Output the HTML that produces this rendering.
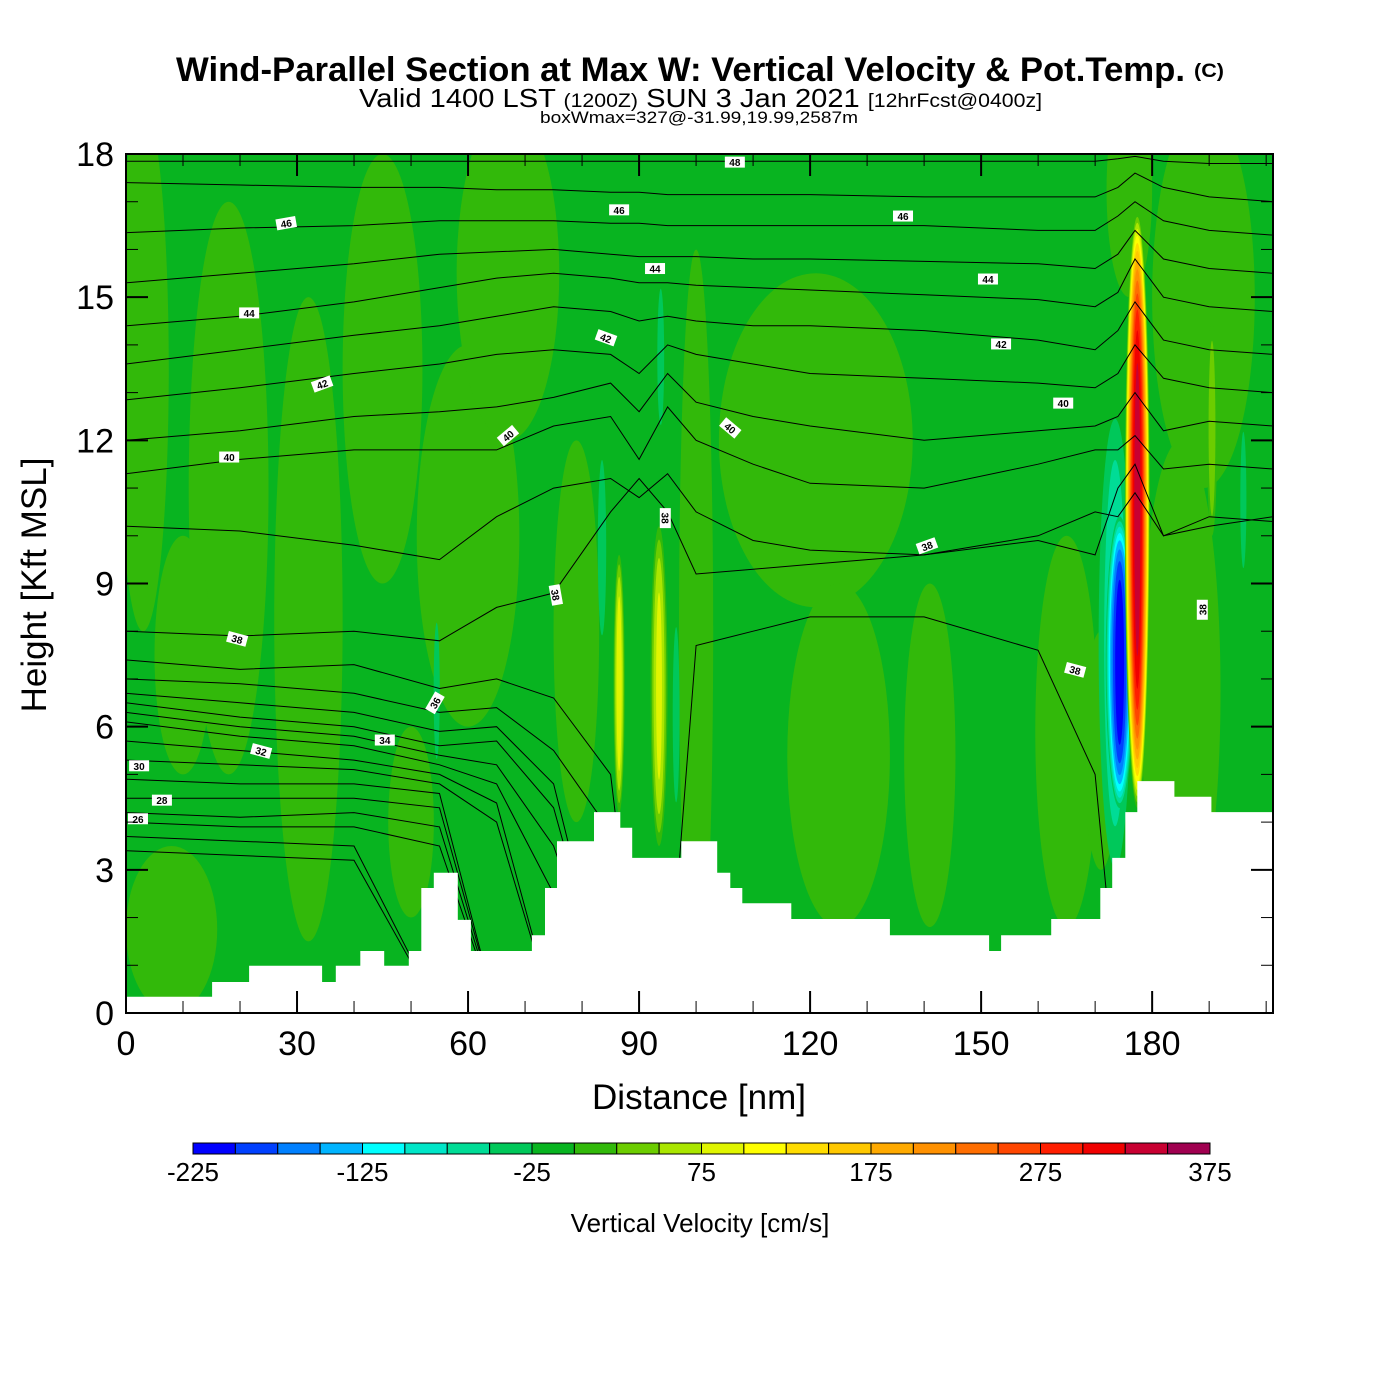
<!DOCTYPE html>
<html><head><meta charset="utf-8"><style>
html,body{margin:0;padding:0;background:#fff;}
svg{display:block;font-family:"Liberation Sans",sans-serif;}
</style></head><body>
<svg id="chart" width="1400" height="1400" viewBox="0 0 1400 1400" xmlns="http://www.w3.org/2000/svg">
<rect x="0" y="0" width="1400" height="1400" fill="#fff"/>
<text x="176" y="81" font-size="34" font-weight="bold" textLength="1009" lengthAdjust="spacingAndGlyphs">Wind-Parallel Section at Max W: Vertical Velocity &amp; Pot.Temp.</text>
<text x="1194" y="77" font-size="19" font-weight="bold" textLength="30" lengthAdjust="spacingAndGlyphs">(C)</text>
<text x="359" y="107" font-size="26" textLength="683" lengthAdjust="spacingAndGlyphs">Valid 1400 LST <tspan font-size="19">(1200Z)</tspan> SUN 3 Jan 2021 <tspan font-size="19">[12hrFcst@0400z]</tspan></text>
<text x="540" y="123" font-size="17" textLength="318" lengthAdjust="spacingAndGlyphs">boxWmax=327@-31.99,19.99,2587m</text>
<defs><clipPath id="plotclip"><rect x="126" y="154" width="1147" height="859"/></clipPath></defs>
<g id="plot" clip-path="url(#plotclip)"></g>
<g id="frame"></g>
<g id="colorbar"></g>
</svg>
<script>
// ---- data ----
const xMaxNm = 201.2;
const yMaxKft = 18;
const bgValue = -10;
const binColors = ["#0000ff","#0040ff","#0080ff","#00b4ff","#00ffff","#00e6c8","#00dc96","#00c85a","#08b420","#32b90a","#6ccd00","#aae600","#e0f500","#ffff00","#ffdc00","#ffc800","#ffaa00","#ff9100","#ff6e00","#ff4600","#ff1e00","#f00000","#c80032","#a00050"];
const cbTickValues = [-225,-125,-25,75,175,275,375];
// vertical-velocity features (centre nm, half width nm, bottom kft, top kft, peak cm/s)
const featX    = [3,   18,  32,  45,  60,  67,  79,  121, 125, 141, 165, 185, 189, 176, 8,   10,  50,  100, 171, 54.5,83.5,96.5,93.8,173.5,174.3,86.5,93.5,177.4,190.5,196];
const featHW   = [4.5, 7,   6,   7,   9,   9,   4,   17,  9,   4.5, 5.5, 7,   9,   4,   8,   5,   4,   3,   3,   0.8, 1.1, 0.9, 0.9, 3.6,  2.6,  1.0, 1.5, 2.2,  0.9, 0.8];
const featBot  = [8,   5,   1.5, 9,   6,   12,  4,   8.5, 1.8, 1.8, 1.8, 1.5, 11,  15,  0,   5,   2,   0,   3,   5,   7.5, 4,   12,  2.5,  4.2,  4.2, 3.5, 4.3,  10,  9];
const featTop  = [19,  17,  15,  18,  14,  19,  12,  15.5,9,   9,   10,  12,  19,  19.5,3.5, 10,  6,   16,  8,   8.5, 12,  8.5, 15.5,13,   10.5, 9.6, 10.2,16.8, 14.5,12.5];
const featPeak = [20,  20,  20,  20,  20,  20,  20,  20,  20,  20,  20,  20,  20,  20,  20,  20,  20,  20,  20,  -45, -45, -45, -45, -70,  -220, 95,  85,  345,  45,  -45];
// terrain steps (nm edges, kft heights)
const terrX = [0,15.1,21.6,34.4,36.8,41.1,45.3,49.6,51.8,54.0,58.2,60.5,71.2,73.5,75.6,82.1,86.7,88.8,97.4,103.7,106.0,108.1,116.7,134.0,151.4,153.5,162.3,170.9,173.0,175.3,177.4,183.9,190.4,201.2];
const terrH = [0.34,0.65,0.99,0.65,0.99,1.30,0.99,1.30,2.62,2.94,1.95,1.30,1.63,2.62,3.60,4.21,3.88,3.25,3.60,2.94,2.62,2.30,1.97,1.63,1.30,1.63,1.97,2.62,3.25,4.21,4.86,4.53,4.21];
// potential temperature contours
const ctStations = [0,20,40,55,65,75,85,90,95,100,110,120,140,160,170,174,177,182,190,201.2];
const ctLevels = [48,47,46,45,44,43,42,41,40,39,38,37,36,35,34,33,32,31,30,29,28,27,26,25,24];
const ct48 = [17.85,17.85,17.85,17.85,17.85,17.85,17.85,17.85,17.85,17.85,17.85,17.85,17.85,17.85,17.85,17.9,17.95,17.85,17.8,17.8];
const ct47 = [17.4,17.35,17.3,17.3,17.25,17.25,17.2,17.2,17.15,17.15,17.15,17.15,17.1,17.1,17.1,17.3,17.6,17.3,17.1,17.0];
const ct46 = [16.35,16.45,16.5,16.6,16.6,16.6,16.55,16.55,16.5,16.5,16.5,16.5,16.5,16.4,16.4,16.7,17.0,16.6,16.4,16.3];
const ct45 = [15.3,15.5,15.7,15.9,15.95,16.0,15.9,15.85,15.85,15.85,15.8,15.8,15.75,15.7,15.6,15.9,16.4,15.8,15.6,15.5];
const ct44 = [14.4,14.6,14.9,15.2,15.4,15.5,15.4,15.3,15.3,15.25,15.2,15.15,15.05,14.95,14.8,15.1,15.8,15.0,14.8,14.7];
const ct43 = [13.6,13.9,14.2,14.4,14.6,14.8,14.7,14.5,14.6,14.5,14.4,14.4,14.3,14.1,13.9,14.3,14.9,14.1,13.9,13.8];
const ct42 = [12.85,13.1,13.4,13.6,13.8,13.9,13.8,13.4,14.0,13.8,13.6,13.4,13.3,13.2,13.1,13.4,14.0,13.3,13.1,13.0];
const ct41 = [12.0,12.2,12.5,12.6,12.7,12.9,13.2,12.6,13.4,12.8,12.5,12.3,12.0,12.2,12.3,12.5,13.0,12.2,12.4,12.3];
const ct40 = [11.3,11.6,11.8,11.8,11.8,12.3,12.5,11.6,12.7,12.0,11.5,11.1,11.0,11.5,11.8,11.8,12.1,11.4,11.5,11.4];
const ct39 = [10.2,10.1,9.8,9.5,10.4,11.0,11.2,10.8,11.3,10.5,9.9,9.7,9.6,10.0,10.5,10.4,10.9,10.0,10.2,10.4];
const ct38 = [8.0,7.9,8.0,7.8,8.5,8.8,10.5,11.2,10.5,9.2,9.3,9.4,9.6,9.9,9.6,11.0,11.5,10.0,10.4,10.3];
const ct37 = [7.4,7.2,7.3,6.8,7.0,6.6,5.0,0,0,7.7,8.0,8.3,8.3,7.6,5.0,0,0,0,0,0];
const ct36 = [7.0,6.9,6.7,6.3,6.4,5.5,3.8,0,0,0,0,0,0,0,0,0,0,0,0,0];
const ct35 = [6.7,6.5,6.3,5.9,6.0,4.8,0,0,0,0,0,0,0,0,0,0,0,0,0,0];
const ct34 = [6.5,6.2,6.0,5.6,5.7,4.3,0,0,0,0,0,0,0,0,0,0,0,0,0,0];
const ct33 = [6.3,6.0,5.8,5.4,5.2,3.5,0,0,0,0,0,0,0,0,0,0,0,0,0,0];
const ct32 = [6.1,5.8,5.6,5.2,4.8,2.5,0,0,0,0,0,0,0,0,0,0,0,0,0,0];
const ct31 = [5.7,5.5,5.3,5.0,4.4,0,0,0,0,0,0,0,0,0,0,0,0,0,0,0];
const ct30 = [5.3,5.2,5.1,4.8,4.0,0,0,0,0,0,0,0,0,0,0,0,0,0,0,0];
const ct29 = [4.9,4.8,4.8,4.6,0,0,0,0,0,0,0,0,0,0,0,0,0,0,0,0];
const ct28 = [4.5,4.5,4.5,4.3,0,0,0,0,0,0,0,0,0,0,0,0,0,0,0,0];
const ct27 = [4.2,4.1,4.2,3.9,0,0,0,0,0,0,0,0,0,0,0,0,0,0,0,0];
const ct26 = [4.0,3.9,3.9,3.5,0,0,0,0,0,0,0,0,0,0,0,0,0,0,0,0];
const ct25 = [3.7,3.6,3.5,0,0,0,0,0,0,0,0,0,0,0,0,0,0,0,0,0];
const ct24 = [3.4,3.3,3.2,0,0,0,0,0,0,0,0,0,0,0,0,0,0,0,0,0];
const ctHeights = [ct48,ct47,ct46,ct45,ct44,ct43,ct42,ct41,ct40,ct39,ct38,ct37,ct36,ct35,ct34,ct33,ct32,ct31,ct30,ct29,ct28,ct27,ct26,ct25,ct24];
// contour labels
const lblText = ["48","46","46","46","44","44","44","42","42","42","40","40","40","40","38","38","38","38","38","38","36","34","32","30","28","26"];
const lblX = [106.8,86.5,136.3,28.1,92.8,151.2,21.6,84.2,153.5,34.4,67,106,164.4,18.1,94.6,140.5,75.4,19.5,166.5,188.8,54.2,45.4,23.7,2.3,6.3,2.1];
const lblH = [17.83,16.83,16.7,16.55,15.6,15.38,14.67,14.15,14.02,13.18,12.1,12.26,12.78,11.65,10.37,9.79,8.76,7.84,7.19,8.45,6.5,5.72,5.49,5.18,4.46,4.07];
const lblRot = [0,0,0,-10,0,0,0,20,0,-20,-40,40,0,0,90,-20,80,15,15,-90,-60,0,15,0,0,0];
const xTickVals = [0,30,60,90,120,150,180];
const yTickVals = [0,3,6,9,12,15,18];

// ---- scales ----
const PX0=126, PX1=1273, PY0=1013, PY1=154;
const sx = nm => PX0 + nm*(PX1-PX0)/xMaxNm;
const sy = k => PY0 - k*(PY0-PY1)/yMaxKft;
const colorOf = v => binColors[Math.max(0,Math.min(23,Math.floor((v+225)/25)))];
const NS="http://www.w3.org/2000/svg";
function mk(tag, attrs, parent){const e=document.createElementNS(NS,tag);for(const k in attrs)e.setAttribute(k,attrs[k]);parent.appendChild(e);return e;}

const plot=document.getElementById('plot');
const bg=mk('rect',{x:PX0,y:PY1,width:PX1-PX0,height:PY0-PY1,fill:colorOf(bgValue)},plot);



for(let i=0;i<featX.length;i++){
  const p=featPeak[i];
  const g=mk('g',{},plot);
  
  
  const cx=sx(featX[i]), cy=(sy(featBot[i])+sy(featTop[i]))/2;
  const rx=sx(featX[i]+featHW[i])-cx, ry=(sy(featBot[i])-sy(featTop[i]))/2;
  const ths=[];
  if(p>0){for(let t=0;t<p;t+=25)ths.push(t);}else{for(let t=-25;t>p;t-=25)ths.push(t);}
  ths.forEach(t=>{
    const r=Math.sqrt(1-t/p);
    const v = p>0 ? t+1 : t-1;
    const el=mk('ellipse',{cx:cx,cy:cy,rx:rx*r,ry:ry*Math.pow(r,0.5),fill:colorOf(v)},g);
    
    
  });
}

for(let li=0;li<ctLevels.length;li++){
  const hs=ctHeights[li];
  const d=hs.map((h,j)=>(j?'L':'M')+sx(ctStations[j]).toFixed(1)+','+sy(h).toFixed(1)).join(' ');
  const path=mk('path',{d:d,fill:'none',stroke:'#000','stroke-width':1},plot);
  
  
}

let td='M'+sx(0)+','+sy(0);
for(let i=0;i<terrH.length;i++){td+=' L'+sx(terrX[i]).toFixed(1)+','+sy(terrH[i]).toFixed(1)+' L'+sx(terrX[i+1]).toFixed(1)+','+sy(terrH[i]).toFixed(1);}
td+=' L'+sx(xMaxNm)+','+sy(0)+' Z';
const terr=mk('path',{d:td,fill:'#fff',stroke:'none'},plot);



for(let i=0;i<lblText.length;i++){
  const g=mk('g',{transform:`translate(${sx(lblX[i])},${sy(lblH[i])}) rotate(${lblRot[i]})`},plot);
  
  
  mk('rect',{x:-10,y:-5.5,width:20,height:11,fill:'#fff'},g);
  const t=mk('text',{x:0,y:4,'font-size':10,'font-weight':'bold','text-anchor':'middle'},g);
  t.textContent=lblText[i];
}

const fr=document.getElementById('frame');
const border=mk('rect',{x:PX0,y:PY1,width:PX1-PX0,height:PY0-PY1,fill:'none',stroke:'#000','stroke-width':2},fr);


for(let v=0;v<=200;v+=10){
  const x=sx(v), L=(v%30===0)?22:12, w=(v%30===0)?2:1;
  mk('line',{x1:x,y1:PY0,x2:x,y2:PY0-L,stroke:'#000','stroke-width':w},fr);
  mk('line',{x1:x,y1:PY1,x2:x,y2:PY1+L,stroke:'#000','stroke-width':w},fr);
}
for(let v=0;v<=18;v+=1){
  const y=sy(v), L=(v%3===0)?22:12, w=(v%3===0)?2:1;
  mk('line',{x1:PX0,y1:y,x2:PX0+L,y2:y,stroke:'#000','stroke-width':w},fr);
  mk('line',{x1:PX1,y1:y,x2:PX1-L,y2:y,stroke:'#000','stroke-width':w},fr);
}
xTickVals.forEach(v=>{
  const t=mk('text',{x:sx(v),y:1055,'font-size':34,'text-anchor':'middle'},fr);
  
  
  t.textContent=v;
});
yTickVals.forEach(v=>{
  const t=mk('text',{x:114,y:sy(v)+12,'font-size':34,'text-anchor':'end'},fr);
  
  
  t.textContent=v;
});
const xt=mk('text',{x:699,y:1109,'font-size':35,'text-anchor':'middle'},fr);


xt.textContent='Distance [nm]';
const yt=mk('text',{x:0,y:0,'font-size':35,'text-anchor':'middle',transform:'translate(46,585) rotate(-90)'},fr);


yt.textContent='Height [Kft MSL]';

const cb=document.getElementById('colorbar');
const CB0=193, CB1=1210, CBY=1143, CBH=11, bw=(CB1-CB0)/binColors.length;
binColors.forEach((c,i)=>{
  const r=mk('rect',{x:CB0+i*bw,y:CBY,width:bw,height:CBH,fill:c,stroke:'#000','stroke-width':1},cb);
  
  
});
cbTickValues.forEach(v=>{
  const t=mk('text',{x:CB0+(v+225)/25*bw,y:1181,'font-size':26,'text-anchor':'middle'},cb);
  
  
  t.textContent=v;
});
const cbt=mk('text',{x:700,y:1232,'font-size':26,'text-anchor':'middle'},cb);


cbt.textContent='Vertical Velocity [cm/s]';
</script>
</body></html>
